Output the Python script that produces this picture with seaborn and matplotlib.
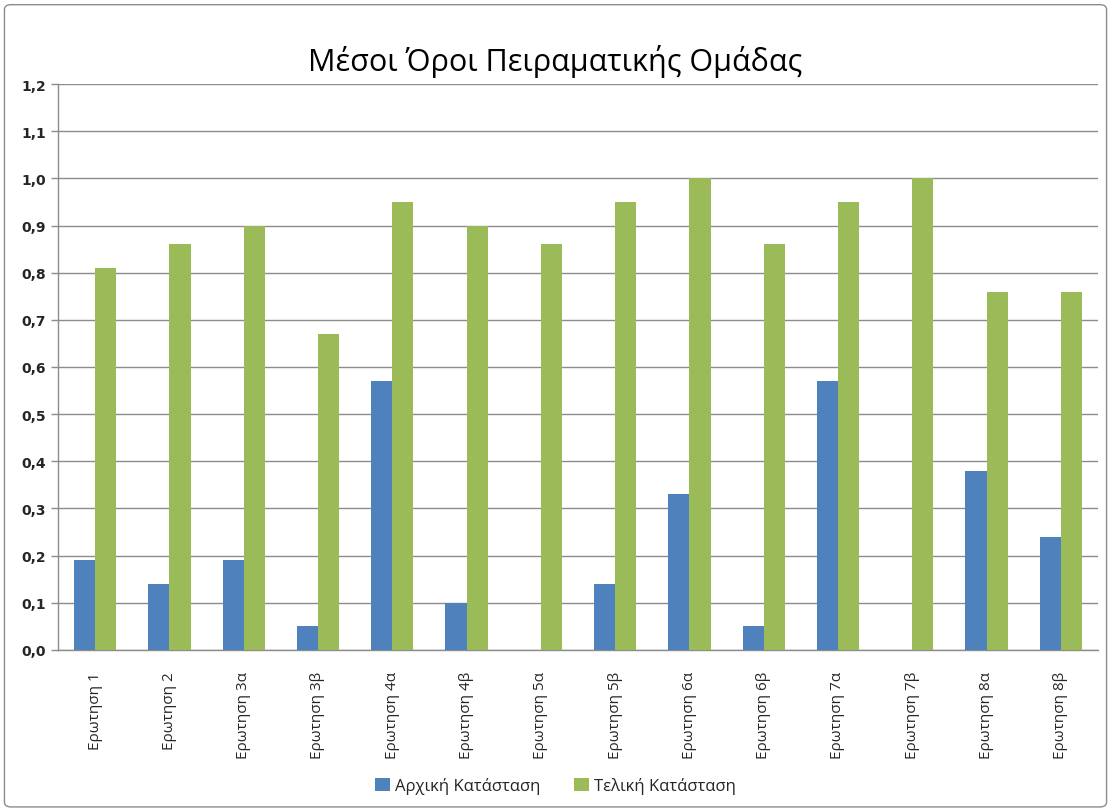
import seaborn as sns
import pandas as pd
import matplotlib.pyplot as plt
from matplotlib.patches import FancyBboxPatch
from matplotlib.ticker import FixedLocator, FuncFormatter

# δεδομένα
questions = ['Ερωτηση 1', 'Ερωτηση 2', 'Ερωτηση 3α', 'Ερωτηση 3β', 'Ερωτηση 4α',
             'Ερωτηση 4β', 'Ερωτηση 5α', 'Ερωτηση 5β', 'Ερωτηση 6α', 'Ερωτηση 6β',
             'Ερωτηση 7α', 'Ερωτηση 7β', 'Ερωτηση 8α', 'Ερωτηση 8β']
initial = [0.19, 0.14, 0.19, 0.05, 0.57, 0.10, 0.00, 0.14, 0.33, 0.05, 0.57, 0.00, 0.38, 0.24]
final = [0.81, 0.86, 0.90, 0.67, 0.95, 0.90, 0.86, 0.95, 1.00, 0.86, 0.95, 1.00, 0.76, 0.76]
series = ['Αρχική Κατάσταση', 'Τελική Κατάσταση']
yticks = [0.0, 0.1, 0.2, 0.3, 0.4, 0.5, 0.6, 0.7, 0.8, 0.9, 1.0, 1.1, 1.2]

df = pd.DataFrame({'question': questions * 2,
                   'value': initial + final,
                   'state': [series[0]] * len(questions) + [series[1]] * len(questions)})

sns.set_style('white')
plt.rcParams['font.family'] = ['Open Sans', 'DejaVu Sans']

fig = plt.figure(figsize=(11.11, 8.12), dpi=100)
ax = fig.add_axes([0.0522, 0.1983, 0.9361, 0.6970])

sns.barplot(data=df, x='question', y='value', hue='state', order=questions,
            hue_order=series, palette=['#4F81BD', '#9BBB59'], width=0.57,
            gap=0, saturation=1, linewidth=0, ax=ax, zorder=3)

ax.set_ylim(0, 1.2)
ax.set_xlim(-0.5, len(questions) - 0.5)
ax.set_yticks(yticks)
ax.yaxis.set_major_formatter(FuncFormatter(lambda v, p: ('%.1f' % v).replace('.', ',')))
for t in ax.get_yticklabels():
    t.set_family('DejaVu Sans')
    t.set_fontweight('bold')
    t.set_fontsize(10)
ax.grid(axis='y', color='#8c8c8c', linewidth=1, zorder=0)
ax.set_axisbelow(True)

# ετικέτες κατηγοριών κάθετα, γραμμές υποδιαίρεσης στα όρια
ax.tick_params(axis='x', which='major', length=0, pad=15, labelsize=11, labelrotation=90)
ax.xaxis.set_minor_locator(FixedLocator([i - 0.5 for i in range(len(questions) + 1)]))
ax.tick_params(axis='x', which='minor', length=5, color='#8c8c8c', width=1, direction='out')
ax.tick_params(axis='y', which='major', length=5, color='#8c8c8c', width=1, direction='out', left=True)
ax.set_xlabel('')
ax.set_ylabel('')
for s in ['top', 'right']:
    ax.spines[s].set_visible(False)
for s in ['left', 'bottom']:
    ax.spines[s].set_color('#8c8c8c')
    ax.spines[s].set_linewidth(1)

leg = ax.legend(loc='center', bbox_to_anchor=(0.5, 0.031), bbox_transform=fig.transFigure,
                ncol=2, frameon=False, fontsize=12, handlelength=0.9, handleheight=0.9,
                handletextpad=0.3, columnspacing=2.0)

fig.suptitle('Μέσοι Όροι Πειραματικής Ομάδας', x=0.5, y=0.945, fontsize=22, color='black')

# περίγραμμα γραφήματος
fig.patches.append(FancyBboxPatch((0.004, 0.005), 0.992, 0.988, boxstyle='round,pad=0,rounding_size=0.006',
                                  transform=fig.transFigure, fill=False, edgecolor='#8c8c8c', linewidth=1))

fig.savefig('out.png', dpi=100)
